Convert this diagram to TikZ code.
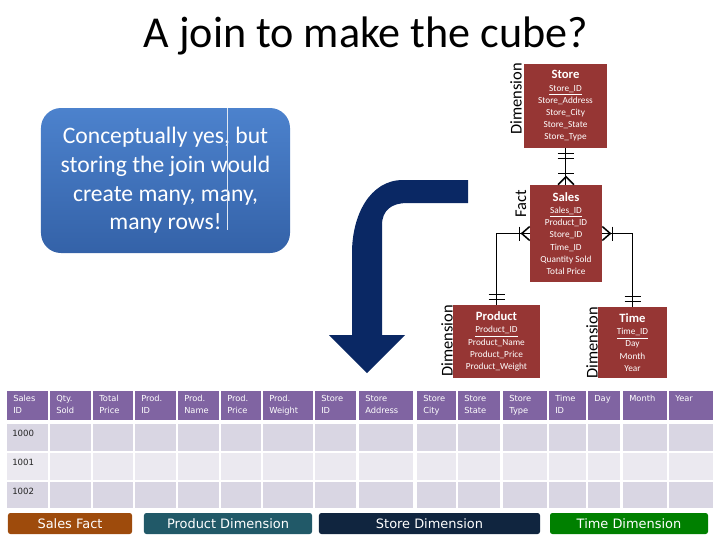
\documentclass[tikz,border=0pt]{standalone}
\usepackage{fontspec}
\setmainfont{Carlito}
\newfontfamily\tabfont{DejaVu Sans}
\usetikzlibrary{calc}
\definecolor{erred}{RGB}{150,54,52}
\definecolor{hdrpurple}{RGB}{128,100,162}
\definecolor{rowdark}{RGB}{217,214,227}
\definecolor{rowlight}{RGB}{235,233,240}
\definecolor{arrownavy}{RGB}{10,40,100}
\definecolor{calltop}{RGB}{76,130,205}
\definecolor{callbot}{RGB}{52,98,168}
\definecolor{factbrown}{RGB}{158,75,12}
\definecolor{prodteal}{RGB}{33,89,104}
\definecolor{storenavy}{RGB}{16,37,63}
\definecolor{timegreen}{RGB}{0,128,0}
\begin{document}
\begin{tikzpicture}[x=0.25mm, y=-0.25mm,
  erbox/.style={fill=erred, text=white, align=center, inner sep=0pt, font=\fontsize{6.6}{8.7}\selectfont},
  role/.style={rotate=90, inner sep=0pt, font=\fontsize{11.7}{12}\selectfont},
  erline/.style={line width=1.1pt},
  hdr/.style={anchor=north west, text=white, align=left, inner sep=0pt, font=\tabfont\fontsize{5.9}{8.5}\selectfont},
  rowlbl/.style={anchor=north west, inner sep=0pt, text=black!85, font=\tabfont\fontsize{6.1}{7}\selectfont},
  legend/.style={rounded corners=0.6mm, text=white, minimum height=5.25mm, inner sep=0pt, font=\tabfont\fontsize{9.2}{10}\selectfont}]
\useasboundingbox (0,0) rectangle (720,540);
\node[anchor=base, inner sep=0pt, font=\fontsize{31.4}{36}\selectfont] (title) at (366,47) {A join to make the cube?};
% star schema
\node[erbox, minimum width=20.75mm, minimum height=21mm] (store) at (565.5,106) {{\fontsize{9}{11}\selectfont\bfseries Store}\\ \underline{Store\_ID}\\ Store\_Address\\ Store\_City\\ Store\_State\\ Store\_Type};
\node[erbox, minimum width=18mm, minimum height=24.25mm] (sales) at (566,233.5) {{\fontsize{9}{11}\selectfont\bfseries Sales}\\ \underline{Sales\_ID}\\ Product\_ID\\ Store\_ID\\ Time\_ID\\ Quantity Sold\\ Total Price};
\node[erbox, minimum width=21.75mm, minimum height=18.25mm] (product) at (496.5,341.5) {{\fontsize{9}{11}\selectfont\bfseries Product}\\ \underline{Product\_ID}\\ Product\_Name\\ Product\_Price\\ Product\_Weight};
\node[erbox, minimum width=17.25mm, minimum height=17.75mm] (time) at (632.5,342.5) {{\fontsize{9}{11}\selectfont\bfseries Time}\\ \underline{Time\_ID}\\ Day\\ Month\\ Year};
\node[role] (storerole) at (516,99) {Dimension};
\node[role] (salesrole) at (521,204) {Fact};
\node[role] (productrole) at (447,341) {Dimension};
\node[role] (timerole) at (592,343) {Dimension};
\draw[erline] (store.south) -- (store.south |- sales.north);
\draw[erline] ($(store.south)+(-8,5)$) -- ++(16,0);
\draw[erline] ($(store.south)+(-8,10)$) -- ++(16,0);
\draw[erline] ($(sales.north)+(-8,-11)$) -- ++(16,0);
\draw[erline] ($(sales.north)+(-8,0)$) -- ($(sales.north)+(0,-8)$) -- ($(sales.north)+(8,0)$);
\draw[erline] (sales.west) -| (product.north);
\draw[erline] ($(sales.west)+(-10,-7)$) -- ++(0,14);
\draw[erline] ($(sales.west)+(0,-7)$) -- ($(sales.west)+(-8,0)$) -- ($(sales.west)+(0,7)$);
\draw[erline] ($(product.north)+(-8,-5)$) -- ++(16,0);
\draw[erline] ($(product.north)+(-8,-10)$) -- ++(16,0);
\draw[erline] (sales.east) -| (time.north);
\draw[erline] ($(sales.east)+(10,-7)$) -- ++(0,14);
\draw[erline] ($(sales.east)+(0,-7)$) -- ($(sales.east)+(8,0)$) -- ($(sales.east)+(0,7)$);
\draw[erline] ($(time.north)+(-8,-5)$) -- ++(16,0);
\draw[erline] ($(time.north)+(-8,-10)$) -- ++(16,0);
% callout and arrow
\node[minimum width=62.25mm, minimum height=36.25mm, rounded corners=5mm, top color=calltop, bottom color=callbot, text=white, align=center, inner sep=0pt, font=\fontsize{16.8}{20.3}\selectfont] (note) at (165.5,180.5) {Conceptually yes, but\\ storing the join would\\ create many, many,\\ many rows!};
\draw[white!85!callbot, line width=0.4pt] (227,108) -- (227,230);
\fill[arrownavy] (468,180) -- (403,180) .. controls (370,180) and (352,215) .. (352,253) -- (352,335) -- (329,335) -- (367,373) -- (405,335) -- (382,335) -- (382,225) .. controls (382,210) and (392,203) .. (407,203) -- (468,203) -- cycle;
% joined table
\foreach \xa/\xb/\txt [count=\i] in {7/48/{Sales\\ID}, 50/91/{Qty.\\Sold}, 93/133/{Total\\Price}, 135/176/{Prod.\\ID}, 178/219/{Prod.\\Name}, 221/261/{Prod.\\Price}, 263/313/{Prod.\\Weight}, 315/356/{Store\\ID}, 359/413/{Store\\Address}, 417/456/{Store\\City}, 458/500/{Store\\State}, 503/547/{Store\\Type}, 549/586/{Time\\ID}, 588/620/{Day}, 623/667/{Month}, 669/713/{Year}}
{
  \fill[hdrpurple] (\xa,391) rectangle (\xb,420);
  \node[hdr] (h\i) at (\xa+6,395) {\txt};
  \fill[rowdark] (\xa,424) rectangle (\xb,451);
  \fill[rowlight] (\xa,453) rectangle (\xb,480);
  \fill[rowdark] (\xa,482) rectangle (\xb,508);
}
\foreach \y/\n in {429.5/1000, 458.5/1001, 487.5/1002}
  \node[rowlbl] (r\n) at (12,\y) {\n};
% legend
\node[legend, fill=factbrown, minimum width=31mm] (salesfact) at (70,523.5) {Sales Fact};
\node[legend, fill=prodteal, minimum width=42mm] (proddim) at (228,523.5) {Product Dimension};
\node[legend, fill=storenavy, minimum width=55.25mm] (storedim) at (429.5,523.5) {Store Dimension};
\node[legend, fill=timegreen, minimum width=39.5mm] (timedim) at (629,523.5) {Time Dimension};
\end{tikzpicture}
\end{document}
